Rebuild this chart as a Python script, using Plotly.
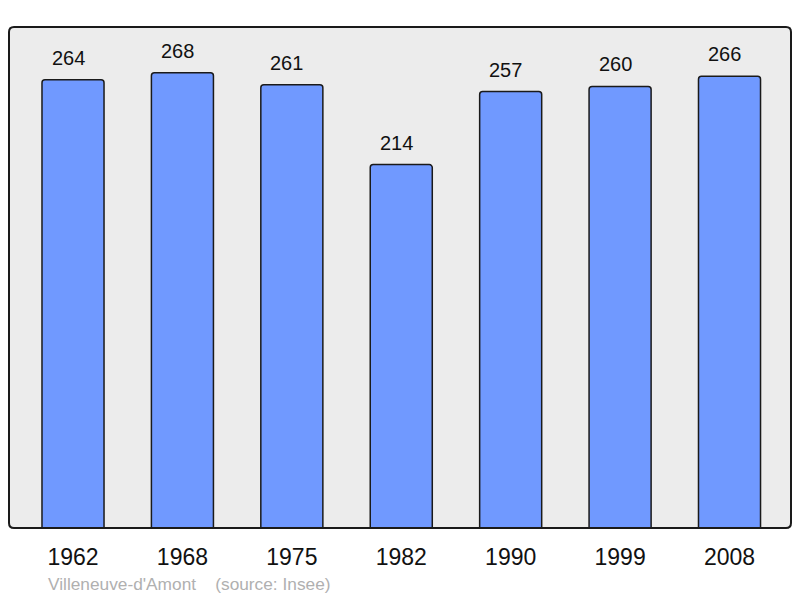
import plotly.graph_objects as go

years = ["1962", "1968", "1975", "1982", "1990", "1999", "2008"]
population = [264, 268, 261, 214, 257, 260, 266]
source_text = "Villeneuve-d'Amont &nbsp;&nbsp;&nbsp;(source: Insee)"

OFF = 8  # page body margin offset
W, H = 800 - OFF, 598 - OFF
ml, mr, mt, mb = 9 - OFF, 9, 27 - OFF, 70
pw, ph = W - ml - mr, H - mt - mb


def px_to_paper(x, y):
    return (x - OFF - ml) / pw, (H - mb - (y - OFF)) / ph


fig = go.Figure()
fig.add_trace(go.Bar(
    x=list(range(len(years))), y=population, width=0.567,
    marker=dict(color="#7099ff", line=dict(color="#1a1a1a", width=1.5), cornerradius=3),
    hoverinfo="skip",
))

for i, v in enumerate(population):
    fig.add_annotation(x=i, y=v, text=str(v), showarrow=False, yanchor="middle",
                       yshift=22, xshift=-5, font=dict(size=20, color="#111111"))

# rounded plot border
rx, ry = 5 / pw, 5 / ph
path = (f"M {rx},0 L {1-rx},0 Q 1,0 1,{ry} L 1,{1-ry} Q 1,1 {1-rx},1 "
        f"L {rx},1 Q 0,1 0,{1-ry} L 0,{ry} Q 0,0 {rx},0 Z")
fig.add_shape(type="path", path=path, xref="paper", yref="paper",
              line=dict(color="#1a1a1a", width=2), layer="above")

sx, sy = px_to_paper(46, 584)
fig.add_annotation(x=sx, y=sy, xref="paper", yref="paper", text=source_text,
                   showarrow=False, xanchor="left", yanchor="middle",
                   font=dict(size=17.3, color="#b0b0b0"))

fig.update_layout(
    width=W, height=H,
    margin=dict(l=ml, r=mr, t=mt, b=mb, pad=0),
    paper_bgcolor="white", plot_bgcolor="#ececec",
    font=dict(family="Liberation Sans, Arial, sans-serif"),
    showlegend=False,
    xaxis=dict(tickmode="array", tickvals=list(range(len(years))), ticktext=years,
               range=[-0.585, 6.562], showgrid=False, zeroline=False,
               tickfont=dict(size=23, color="#111111"), ticks="", ticklabelstandoff=13,
               fixedrange=True),
    yaxis=dict(range=[0, 295], showgrid=False, zeroline=False, showticklabels=False,
               ticks="", fixedrange=True),
)

fig.write_html("out.html")
